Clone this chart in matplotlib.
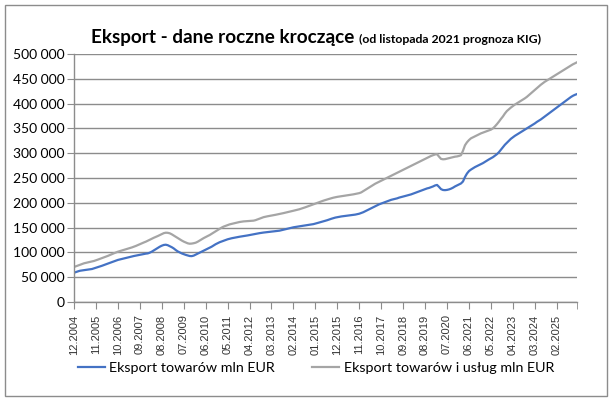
import numpy as np
import pandas as pd
import matplotlib
matplotlib.use("Agg")
import matplotlib.pyplot as plt
from matplotlib.patches import Rectangle
from matplotlib.ticker import FuncFormatter


# wartosci w tys. mln EUR, miesiecznie od 12.2004 do 12.2025
start = "2004-12"
n_months = 253

towary = [59.0,
    60.5, 61.8, 63.0, 63.5, 64.2, 64.8, 65.5, 66.0, 66.5, 67.8, 69.0, 70.2,
    71.5, 73.0, 74.6, 76.0, 77.5, 79.0, 80.6, 82.0, 83.5, 84.8, 85.8, 86.8,
    87.8, 88.8, 89.8, 90.8, 91.8, 92.7, 93.5, 94.3, 95.2, 96.0, 96.8, 97.5,
    98.0, 99.5, 101.5, 104.0, 106.5, 109.0, 111.5, 113.5, 115.0, 115.5, 114.5, 112.5,
    110.5, 108.0, 104.8, 102.0, 100.0, 98.0, 96.5, 95.0, 93.8, 92.7, 92.5, 93.5,
    95.5, 97.5, 99.4, 101.5, 103.5, 105.5, 107.5, 109.5, 111.5, 114.0, 116.5, 118.5,
    120.5, 122.0, 123.5, 125.0, 126.4, 127.5, 128.5, 129.3, 130.0, 130.8, 131.6, 132.2,
    132.8, 133.5, 134.2, 135.0, 135.8, 136.5, 137.3, 138.0, 138.8, 139.5, 140.0, 140.5,
    141.0, 141.3, 141.8, 142.3, 142.8, 143.3, 143.8, 144.8, 145.8, 146.8, 147.8, 148.8,
    149.8, 150.6, 151.3, 152.0, 152.5, 153.2, 153.8, 154.5, 155.2, 155.8, 156.4, 157.0,
    158.0, 159.2, 160.3, 161.5, 162.7, 163.8, 165.0, 166.5, 167.8, 169.0, 170.2, 171.0,
    172.0, 172.5, 173.0, 173.5, 174.0, 174.5, 175.0, 175.5, 176.2, 177.0, 178.0, 179.5,
    181.0, 183.0, 185.0, 187.0, 189.0, 191.0, 193.0, 195.0, 197.0, 198.5, 200.0, 201.5,
    203.0, 204.5, 206.0, 207.0, 208.0, 209.0, 210.5, 211.5, 212.5, 213.7, 214.8, 216.0,
    217.0, 218.5, 220.0, 221.5, 223.0, 224.5, 226.0, 227.5, 229.0, 230.0, 231.5, 233.0,
    235.0, 236.0, 232.0, 227.5, 225.8, 225.5, 226.0, 227.0, 228.5, 230.5, 233.0, 235.0,
    237.0, 239.0, 243.0, 252.0, 259.0, 264.0, 267.0, 269.5, 272.0, 274.0, 276.0, 278.0,
    280.0, 282.5, 285.0, 287.5, 289.7, 292.0, 295.0, 298.0, 302.0, 307.0, 312.0, 317.0,
    321.0, 325.0, 329.0, 332.0, 335.0, 337.5, 340.0, 342.5, 345.0, 347.5, 350.0, 352.5,
    355.0, 357.5, 360.0, 363.0, 365.5, 368.0, 371.0, 374.0, 377.0, 380.0, 383.0, 386.0,
    389.0, 392.0, 395.0, 398.0, 401.0, 404.0, 407.0, 410.0, 413.0, 415.5, 417.5, 419.0]

towary_uslugi = [70.6,
    72.0, 73.5, 75.0, 76.5, 78.0, 79.0, 80.0, 81.0, 81.8, 82.7, 84.0, 85.5,
    87.0, 88.5, 90.0, 91.3, 93.0, 94.8, 96.5, 98.2, 99.8, 101.4, 102.6, 103.8,
    105.0, 106.2, 107.4, 108.7, 110.0, 111.5, 113.0, 114.8, 116.5, 118.3, 120.0, 121.6,
    123.5, 125.5, 127.5, 129.5, 131.2, 133.0, 135.0, 137.0, 138.8, 139.7, 139.5, 138.5,
    136.5, 134.0, 131.5, 128.8, 126.4, 124.0, 121.8, 120.0, 118.3, 117.5, 117.8, 118.5,
    119.6, 121.5, 124.0, 126.5, 128.8, 131.0, 133.0, 135.0, 137.5, 140.0, 142.5, 145.0,
    147.5, 150.0, 152.0, 153.5, 155.0, 156.5, 157.5, 158.5, 159.5, 160.5, 161.3, 162.0,
    162.5, 162.8, 163.2, 163.5, 163.8, 164.0, 165.0, 166.5, 168.0, 169.5, 171.0, 172.0,
    172.8, 173.5, 174.3, 175.0, 175.8, 176.6, 177.4, 178.3, 179.2, 180.2, 181.2, 182.2,
    183.0, 184.0, 184.9, 186.0, 187.0, 188.3, 189.6, 191.0, 192.5, 194.0, 195.5, 197.0,
    198.5, 200.0, 201.5, 203.0, 204.3, 205.6, 206.8, 208.0, 209.2, 210.3, 211.2, 212.0,
    212.6, 213.2, 213.8, 214.4, 215.0, 215.6, 216.2, 217.0, 217.8, 218.5, 219.5, 221.0,
    223.5, 226.0, 228.5, 231.0, 233.5, 236.0, 238.5, 240.5, 242.5, 244.5, 246.5, 248.5,
    250.5, 252.5, 254.5, 256.5, 258.5, 260.5, 262.5, 264.5, 266.5, 268.5, 270.5, 272.5,
    274.5, 276.5, 278.5, 280.5, 282.5, 284.5, 286.5, 288.5, 290.5, 292.5, 294.5, 296.0,
    297.5, 298.0, 293.0, 288.5, 287.7, 288.0, 289.0, 290.0, 291.0, 292.0, 293.0, 293.5,
    294.5, 296.0, 305.0, 316.0, 322.0, 326.5, 330.0, 332.0, 334.0, 336.0, 338.0, 340.0,
    341.5, 343.0, 344.5, 346.0, 347.5, 350.0, 354.0, 358.5, 363.5, 369.0, 374.0, 380.0,
    385.0, 388.5, 392.0, 395.0, 398.0, 400.5, 403.0, 405.5, 408.0, 410.6, 413.5, 417.0,
    420.5, 424.0, 427.5, 431.0, 434.5, 438.0, 441.0, 444.0, 446.5, 449.0, 451.5, 454.0,
    456.5, 459.0, 461.5, 464.0, 466.5, 469.0, 471.5, 474.0, 476.5, 479.0, 481.0, 483.0]

nazwy = ["Eksport towarów mln EUR", "Eksport towarów i usług mln EUR"]
kolory = ["#4472C4", "#A5A5A5"]

daty = pd.period_range(start, periods=n_months, freq="M")
etykiety = [d.strftime("%m.%Y") for d in daty]


def GetFig():
    fig = plt.figure(figsize=(6.14, 3.99), dpi=100)
    ax = fig.add_axes([74/614, 1-302/399, (576.7-74)/614, (302-54)/399])
    return fig, ax


fig, ax = GetFig()
x = np.arange(n_months)
ax.plot(x, np.array(towary)*1000, color=kolory[0], lw=1.6, label=nazwy[0])
ax.plot(x, np.array(towary_uslugi)*1000, color=kolory[1], lw=1.6, label=nazwy[1])

ax.set_xlim(0, n_months-1)
ax.set_ylim(0, 500000)
ax.set_yticks(np.arange(0, 500001, 50000))
ax.yaxis.set_major_formatter(FuncFormatter(lambda v, p: f"{int(v):,}".replace(",", " ")))
ax.grid(axis="y", color="#8C8C8C", lw=1)
ax.set_axisbelow(True)

pos = list(range(0, n_months, 11))
ax.set_xticks(pos)
ax.set_xticklabels([etykiety[i] for i in pos], rotation=90, fontsize=8,
                   family="Liberation Sans", color="#333333")
ax.set_xticks([n_months-1], minor=True)
ax.tick_params(axis="x", which="both", length=5, color="#8C8C8C", pad=4)
ax.tick_params(axis="y", length=5, color="#8C8C8C", pad=2)
for t in ax.get_yticklabels():
    t.set_family("Lato")
    t.set_fontsize(10)

for s in ["top", "right"]:
    ax.spines[s].set_visible(False)
for s in ["left", "bottom"]:
    ax.spines[s].set_color("#8C8C8C")
    ax.spines[s].set_linewidth(1)

t1 = fig.text(91/614, 1-43/399, "Eksport - dane roczne kroczące", fontsize=13.6,
              fontweight="bold", family="Lato", va="baseline", ha="left")
fig.canvas.draw()
bb = t1.get_window_extent()
fig.text((bb.x1 + 5)/614, 1-43/399, "(od listopada 2021 prognoza KIG)", fontsize=8.8,
         fontweight="bold", family="Lato", va="baseline", ha="left")

leg = fig.legend(loc="center", bbox_to_anchor=(316/614, 1-368/399), ncol=2,
                 frameon=False, prop={"family": "Lato", "size": 10.3},
                 handlelength=1.9, handletextpad=0.3, columnspacing=2.6)

fig.patches.append(Rectangle((5/614, 3/399), 602/614, 391/399, transform=fig.transFigure,
                             fill=False, edgecolor="#8C8C8C", lw=1))

plt.savefig("out.png", dpi=100)
